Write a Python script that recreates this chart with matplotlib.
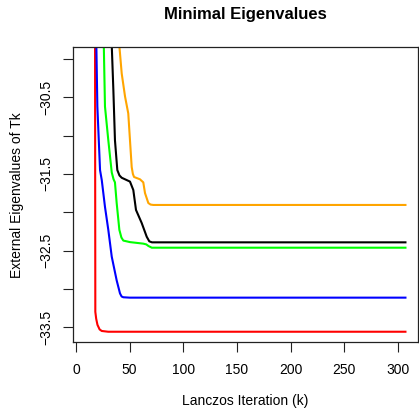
import numpy as np
import matplotlib
matplotlib.use("Agg")
from matplotlib import pyplot as plt

plt.rcParams["font.family"] = ["Liberation Sans", "DejaVu Sans"]

# Lanczos iteration (k) / smallest eigenvalue of T_k
red_k = [17.6, 18.0, 18.8, 20.0, 22.0, 24.0, 30.0, 307.0]
red_v = [-28.0, -33.30, -33.39, -33.47, -33.53, -33.55, -33.56, -33.56]

blue_k = [18.0, 19.9, 22.4, 24.0, 27.0, 30.1, 33.3, 37.9, 41.0, 42.5, 44.1, 50.0, 307.0]
blue_v = [-29.0, -30.62, -31.45, -31.58, -31.93, -32.23, -32.58, -32.89, -33.06,
          -33.10, -33.11, -33.115, -33.115]

green_k = [25.6, 27.0, 30.1, 33.3, 35.0, 36.3, 37.9, 40.4, 42.3, 44.1, 50.3, 62.7,
           65.5, 67.4, 70.6, 307.0]
green_v = [-29.6, -30.62, -31.06, -31.48, -31.57, -31.61, -31.88, -32.23, -32.33,
           -32.37, -32.39, -32.41, -32.42, -32.44, -32.463, -32.463]

black_k = [33.0, 34.8, 36.3, 38.5, 40.5, 42.6, 50.3, 53.4, 55.9, 61.2, 65.9, 68.3,
           70.8, 307.0]
black_v = [-29.7, -30.40, -31.06, -31.45, -31.52, -31.55, -31.60, -31.71, -31.97,
           -32.14, -32.32, -32.38, -32.393, -32.393]

orange_k = [39.0, 42.6, 45.7, 48.7, 50.3, 51.9, 53.0, 54.1, 59.6, 62.7, 64.3, 67.4,
            69.5, 72.0, 307.0]
orange_v = [-29.6, -30.19, -30.49, -30.71, -31.06, -31.41, -31.50, -31.54, -31.57,
            -31.61, -31.75, -31.88, -31.90, -31.905, -31.905]

series = [
    (red_k, red_v, "#FF0000"),
    (blue_k, blue_v, "#0000FF"),
    (green_k, green_v, "#00FF00"),
    (black_k, black_v, "#000000"),
    (orange_k, orange_v, "#FFA500"),
]

y_ticks = np.arange(-30.0, -33.51, -0.5)
y_labels = ["" if abs(t * 2) % 2 == 0 else f"{t:g}".replace("-", "\u2212") for t in y_ticks]
x_ticks = [0, 50, 100, 150, 200, 250, 300]

W, H = 419, 408
fig = plt.figure(figsize=(W / 100, H / 100), dpi=100)
ax = fig.add_axes([73 / W, 1 - 342 / H, (418 - 73) / W, (342 - 47) / H])

for k, v, c in series:
    ax.plot(k, v, color=c, lw=1.5, solid_joinstyle="round")

ax.set_xlim(-2.8, 318.7)
ax.set_ylim(-33.694, -29.843)

ax.set_xticks(x_ticks)
ax.set_xticklabels([str(t) for t in x_ticks])
ax.set_yticks(y_ticks)
ax.set_yticklabels(y_labels, rotation=90, va="center")

ax.tick_params(axis="both", direction="out", length=7, width=0.8, labelsize=10, color="#222222")
ax.tick_params(axis="x", pad=8)
ax.tick_params(axis="y", pad=7)
for s in ax.spines.values():
    s.set_linewidth(0.9)
    s.set_color("#222222")

fig.text(245 / W, 1 - 14 / H, "Minimal Eigenvalues", ha="center", va="center",
         fontsize=12, fontweight="bold")
fig.text(245 / W, 1 - 401 / H, "Lanczos Iteration (k)", ha="center", va="center", fontsize=10)
fig.text(17 / W, 1 - 195 / H, "External Eigenvalues of Tk", ha="center", va="center",
         rotation=90, fontsize=10)

fig.savefig("out.png", dpi=100)
